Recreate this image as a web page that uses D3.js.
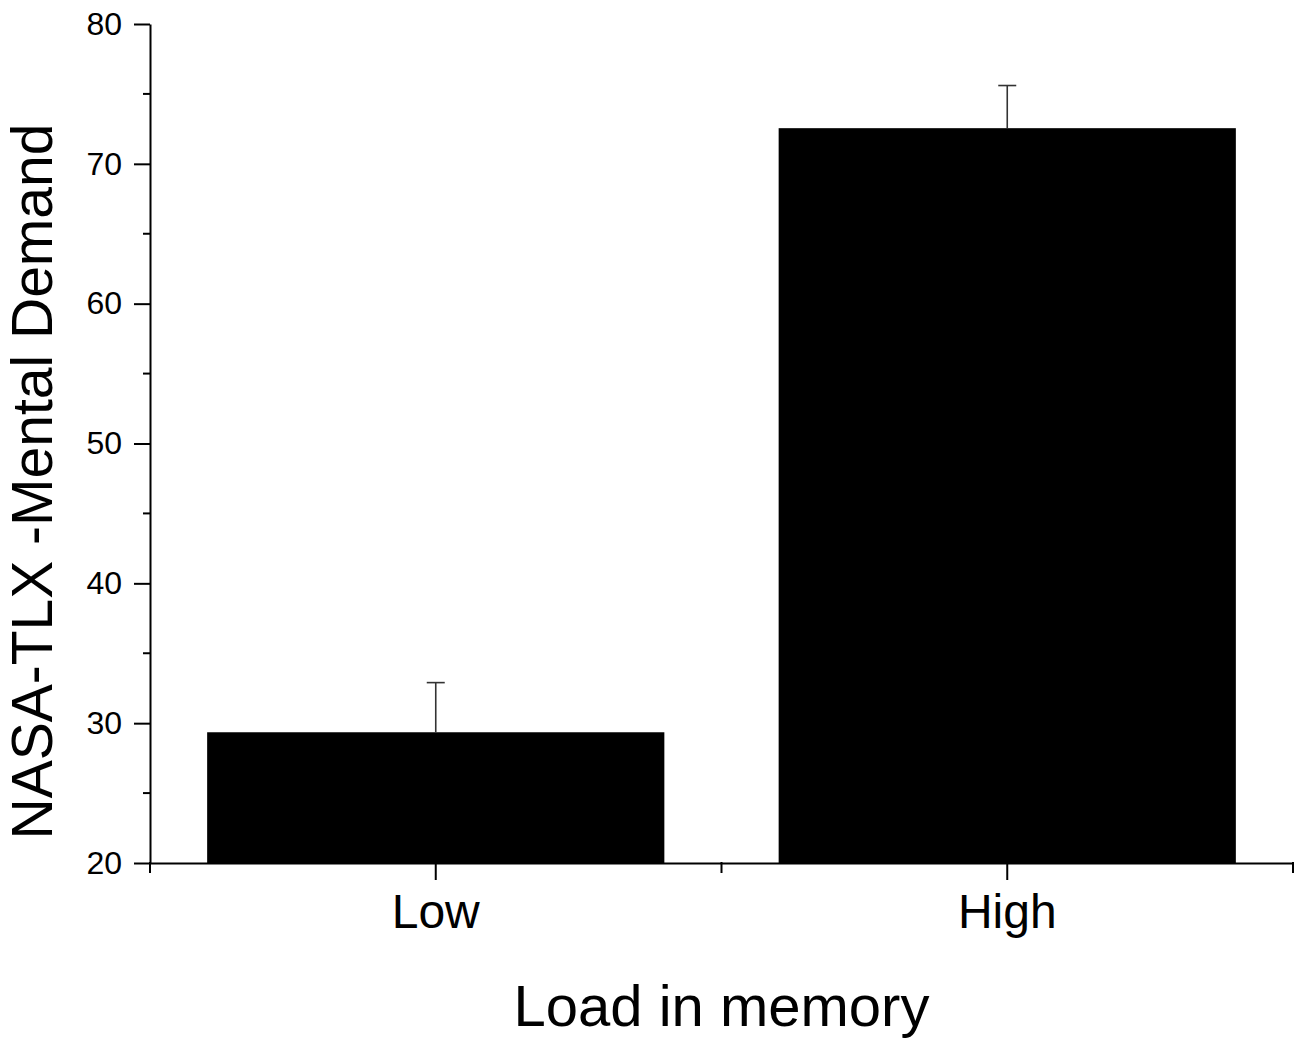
<!DOCTYPE html>
<html>
<head>
<meta charset="utf-8">
<script src="https://cdn.jsdelivr.net/npm/d3@7"></script>
<style>
  html, body { margin: 0; padding: 0; background: #fff; }
  svg { display: block; font-family: Arial, "Liberation Sans", Helvetica, sans-serif; }
</style>
</head>
<body>
<svg id="chart" width="1300" height="1042"></svg>
<script>
// ---- data ----
const categories = ["Low", "High"];
const means = [29.35, 72.55];
const errors = [3.55, 3.05];
const yTicks = [20, 30, 40, 50, 60, 70, 80];
const xTitle = "Load in memory";
const yTitle = "NASA-TLX -Mental Demand";

(function () {
  const svg = d3.select("#chart");
  const mL = 150, mR = 1293, mT = 24, mB = 863;

  const x = d3.scaleBand().domain(categories).range([mL, mR]).paddingInner(0.2).paddingOuter(0.1);
  const y = d3.scaleLinear().domain([20, 80]).range([mB, mT]);

  const data = categories.map((c, i) => ({ cat: c, v: means[i], e: errors[i] }));

  // bars
  svg.append("g").selectAll("rect").data(data).join("rect")
    .attr("x", d => x(d.cat))
    .attr("width", x.bandwidth())
    .attr("y", d => y(d.v))
    .attr("height", d => y(20) - y(d.v))
    .attr("fill", "#000");

  // error bars (upper only)
  const eg = svg.append("g").attr("stroke", "#333").attr("stroke-width", 1.6);
  eg.selectAll("line.stem").data(data).join("line").attr("class", "stem")
    .attr("x1", d => x(d.cat) + x.bandwidth() / 2)
    .attr("x2", d => x(d.cat) + x.bandwidth() / 2)
    .attr("y1", d => y(d.v))
    .attr("y2", d => y(d.v + d.e));
  eg.selectAll("line.cap").data(data).join("line").attr("class", "cap")
    .attr("x1", d => x(d.cat) + x.bandwidth() / 2 - 9)
    .attr("x2", d => x(d.cat) + x.bandwidth() / 2 + 9)
    .attr("y1", d => y(d.v + d.e))
    .attr("y2", d => y(d.v + d.e));

  // y axis
  const yAxis = d3.axisLeft(y).tickValues(yTicks).tickSize(16).tickPadding(12).tickSizeOuter(0);
  const yg = svg.append("g").attr("transform", `translate(${mL},0)`).call(yAxis);
  yg.select(".domain").attr("stroke", "#000").attr("stroke-width", 2);
  yg.selectAll(".tick line").attr("stroke", "#000").attr("stroke-width", 2);
  yg.selectAll(".tick text").attr("font-size", 32).attr("fill", "#000")
    .attr("font-family", "Arial, 'Liberation Sans', sans-serif");
  const yMinor = d3.range(25, 80, 10);
  yg.selectAll("line.minor").data(yMinor).join("line").attr("class", "minor")
    .attr("x1", 0).attr("x2", -7)
    .attr("y1", d => y(d)).attr("y2", d => y(d))
    .attr("stroke", "#000").attr("stroke-width", 2);

  // x axis
  const xAxis = d3.axisBottom(x).tickSize(17).tickPadding(14).tickSizeOuter(0);
  const xg = svg.append("g").attr("transform", `translate(0,${mB})`).call(xAxis);
  xg.select(".domain").attr("stroke", "#000").attr("stroke-width", 2);
  xg.selectAll(".tick line").attr("stroke", "#000").attr("stroke-width", 2);
  xg.selectAll(".tick text").attr("font-size", 48).attr("fill", "#000")
    .attr("font-family", "Arial, 'Liberation Sans', sans-serif");
  const xBounds = [mL, (x("Low") + x.bandwidth() + x("High")) / 2, mR];
  xg.selectAll("line.minor").data(xBounds).join("line").attr("class", "minor")
    .attr("x1", d => d).attr("x2", d => d)
    .attr("y1", -1).attr("y2", 10)
    .attr("stroke", "#000").attr("stroke-width", 2);

  // axis titles
  svg.append("text")
    .attr("x", (mL + mR) / 2)
    .attr("y", 1026)
    .attr("text-anchor", "middle")
    .attr("font-size", 58)
    .attr("fill", "#000")
    .text(xTitle);

  svg.append("text")
    .attr("transform", `translate(52,${(mT + mB) / 2 + 38}) rotate(-90)`)
    .attr("text-anchor", "middle")
    .attr("font-size", 57)
    .attr("fill", "#000")
    .text(yTitle);
})();
</script>
</body>
</html>
